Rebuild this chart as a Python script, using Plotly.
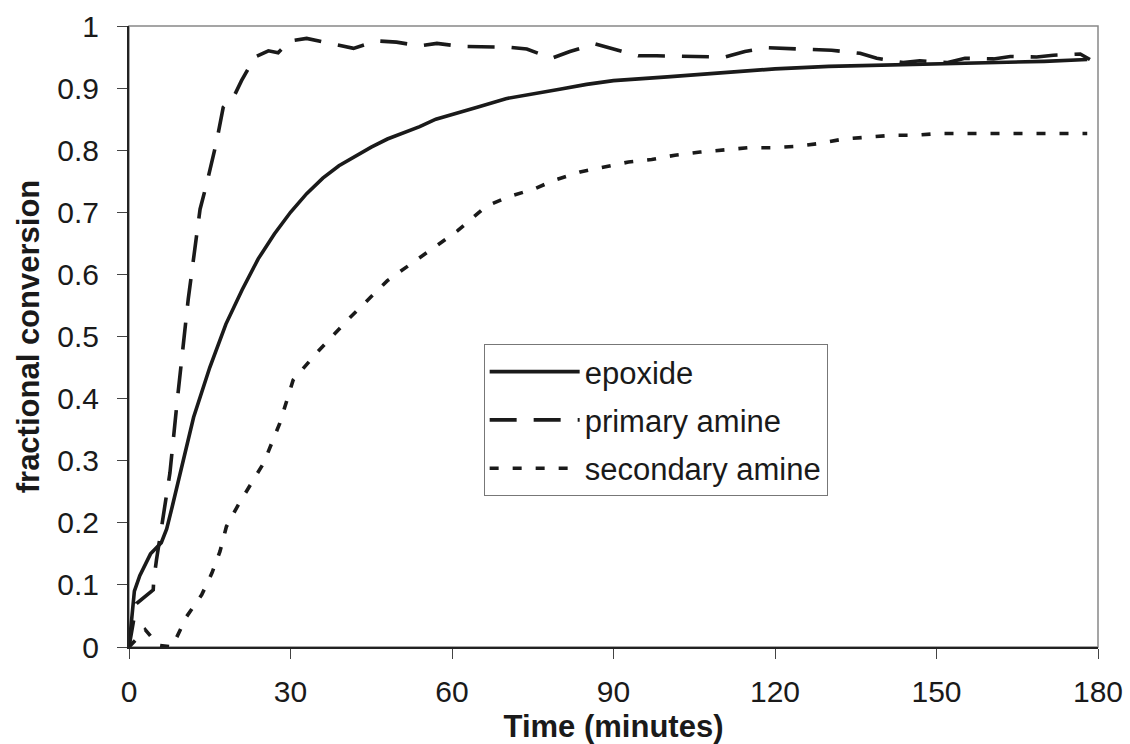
import plotly.graph_objects as go

# Epoxide (solid)
t_epoxide = [0, 1, 2, 4, 6, 7, 8, 10, 12, 15, 18, 21, 24, 27, 30, 33, 36, 39, 42, 45, 48, 51, 54,
             57, 60, 65, 70, 75, 80, 85, 90, 100, 110, 120, 130, 140, 150, 160, 170, 178]
y_epoxide = [0, 0.09, 0.115, 0.15, 0.168, 0.19, 0.225, 0.30, 0.37, 0.45, 0.52, 0.575, 0.625, 0.665,
             0.70, 0.73, 0.755, 0.775, 0.79, 0.805, 0.818, 0.828, 0.838, 0.85, 0.857, 0.87, 0.883,
             0.89, 0.898, 0.906, 0.912, 0.918, 0.925, 0.931, 0.935, 0.937, 0.938, 0.941, 0.943, 0.946]

# Primary amine (dashed)
t_primary = [0, 1.4, 4.5, 4.6, 5.1, 6.4, 7.6, 9, 11, 13.2, 14.4, 16.3, 17.5, 19.4, 20.9, 23.4,
             25.9, 27.7, 29.9, 33, 38, 41.7, 46, 49.7, 54, 57.2, 61.8, 70.2, 73.9, 78.5, 81.9,
             86.6, 90, 94.6, 98, 106, 110.7, 114.4, 118.5, 124.6, 130.5, 135.8, 138.9, 143.8,
             146.9, 151.9, 155.3, 160.6, 163.7, 168.6, 171.7, 176.7, 178.5]
y_primary = [0, 0.07, 0.092, 0.108, 0.14, 0.21, 0.28, 0.40, 0.56, 0.705, 0.745, 0.815, 0.869,
             0.885, 0.912, 0.95, 0.96, 0.957, 0.976, 0.98, 0.971, 0.964, 0.976, 0.974, 0.968,
             0.972, 0.967, 0.966, 0.963, 0.948, 0.959, 0.971, 0.963, 0.952, 0.952, 0.95, 0.95,
             0.959, 0.965, 0.963, 0.961, 0.956, 0.948, 0.941, 0.944, 0.941, 0.948, 0.947, 0.951,
             0.95, 0.953, 0.955, 0.946]

# Secondary amine (dotted)
t_secondary = [0, 3, 5.4, 8, 8.5, 10.7, 13.5, 15.4, 16.9, 18.1, 20.3, 22.8, 25, 28, 30.5, 35, 41,
               48, 56, 61, 66.4, 70.8, 75.1, 79.1, 83.8, 88.1, 92.8, 97.1, 101.4, 106.1, 110.4,
               115, 119.4, 123.7, 128.4, 132.7, 137.3, 141.7, 146, 150.7, 160, 170, 178]
y_secondary = [0, 0.028, 0.003, 0.0, 0.009, 0.049, 0.084, 0.119, 0.154, 0.194, 0.229, 0.264, 0.296,
               0.36, 0.43, 0.475, 0.53, 0.59, 0.64, 0.67, 0.71, 0.726, 0.737, 0.752, 0.765, 0.773,
               0.781, 0.785, 0.792, 0.797, 0.80, 0.804, 0.804, 0.806, 0.811, 0.818, 0.821, 0.824,
               0.824, 0.827, 0.827, 0.827, 0.827]

x_ticks = [0, 30, 60, 90, 120, 150, 180]
y_ticks = [0, 0.1, 0.2, 0.3, 0.4, 0.5, 0.6, 0.7, 0.8, 0.9, 1]

FONT = "Liberation Sans, Arial, sans-serif"
INK = "#1a1a1a"

fig = go.Figure()
fig.add_trace(go.Scatter(x=t_epoxide, y=y_epoxide, mode="lines", name="epoxide", legendgroup="a",
                         line=dict(color=INK, width=3.6)))
fig.add_trace(go.Scatter(x=t_primary, y=y_primary, mode="lines", name="primary amine", legendgroup="b",
                         line=dict(color=INK, width=3.6, dash="27px,17px")))
fig.add_trace(go.Scatter(x=t_secondary, y=y_secondary, mode="lines", name="secondary amine",
                         legendgroup="c", line=dict(color=INK, width=3.6, dash="9px,14px")))

fig.update_layout(
    width=1130, height=744,
    margin=dict(l=129, r=32, t=26, b=97),
    paper_bgcolor="white", plot_bgcolor="white",
    font=dict(family=FONT, size=30, color=INK),
    showlegend=True,
    legend=dict(
        x=0.366, y=0.488, xanchor="left", yanchor="top",
        bgcolor="white", bordercolor="#777777", borderwidth=1,
        font=dict(family=FONT, size=31, color=INK),
        itemwidth=90, tracegroupgap=5, entrywidth=255,
    ),
    xaxis=dict(
        range=[0, 180], tickvals=x_ticks, showgrid=False, zeroline=False,
        showline=True, linecolor="#222222", linewidth=2, automargin=False,
        ticks="outside", ticklen=10, tickcolor="#444444", ticklabelstandoff=7,
        tickfont=dict(family=FONT, size=30),
        title=dict(text="<b>Time (minutes)</b>", font=dict(family=FONT, size=31), standoff=14),
    ),
    yaxis=dict(
        range=[0, 1], tickvals=y_ticks, showgrid=False, zeroline=False,
        showline=True, linecolor="#222222", linewidth=2, automargin=False,
        ticks="outside", ticklen=10, tickcolor="#444444", ticklabelstandoff=12,
        tickfont=dict(family=FONT, size=30),
        title=dict(text="<b>fractional conversion</b>", font=dict(family=FONT, size=31), standoff=8),
    ),
    shapes=[dict(type="rect", xref="paper", yref="paper", x0=0, y0=0, x1=1, y1=1,
                 line=dict(color="#888888", width=1.5), layer="below")],
)

fig.write_html("out.html")
